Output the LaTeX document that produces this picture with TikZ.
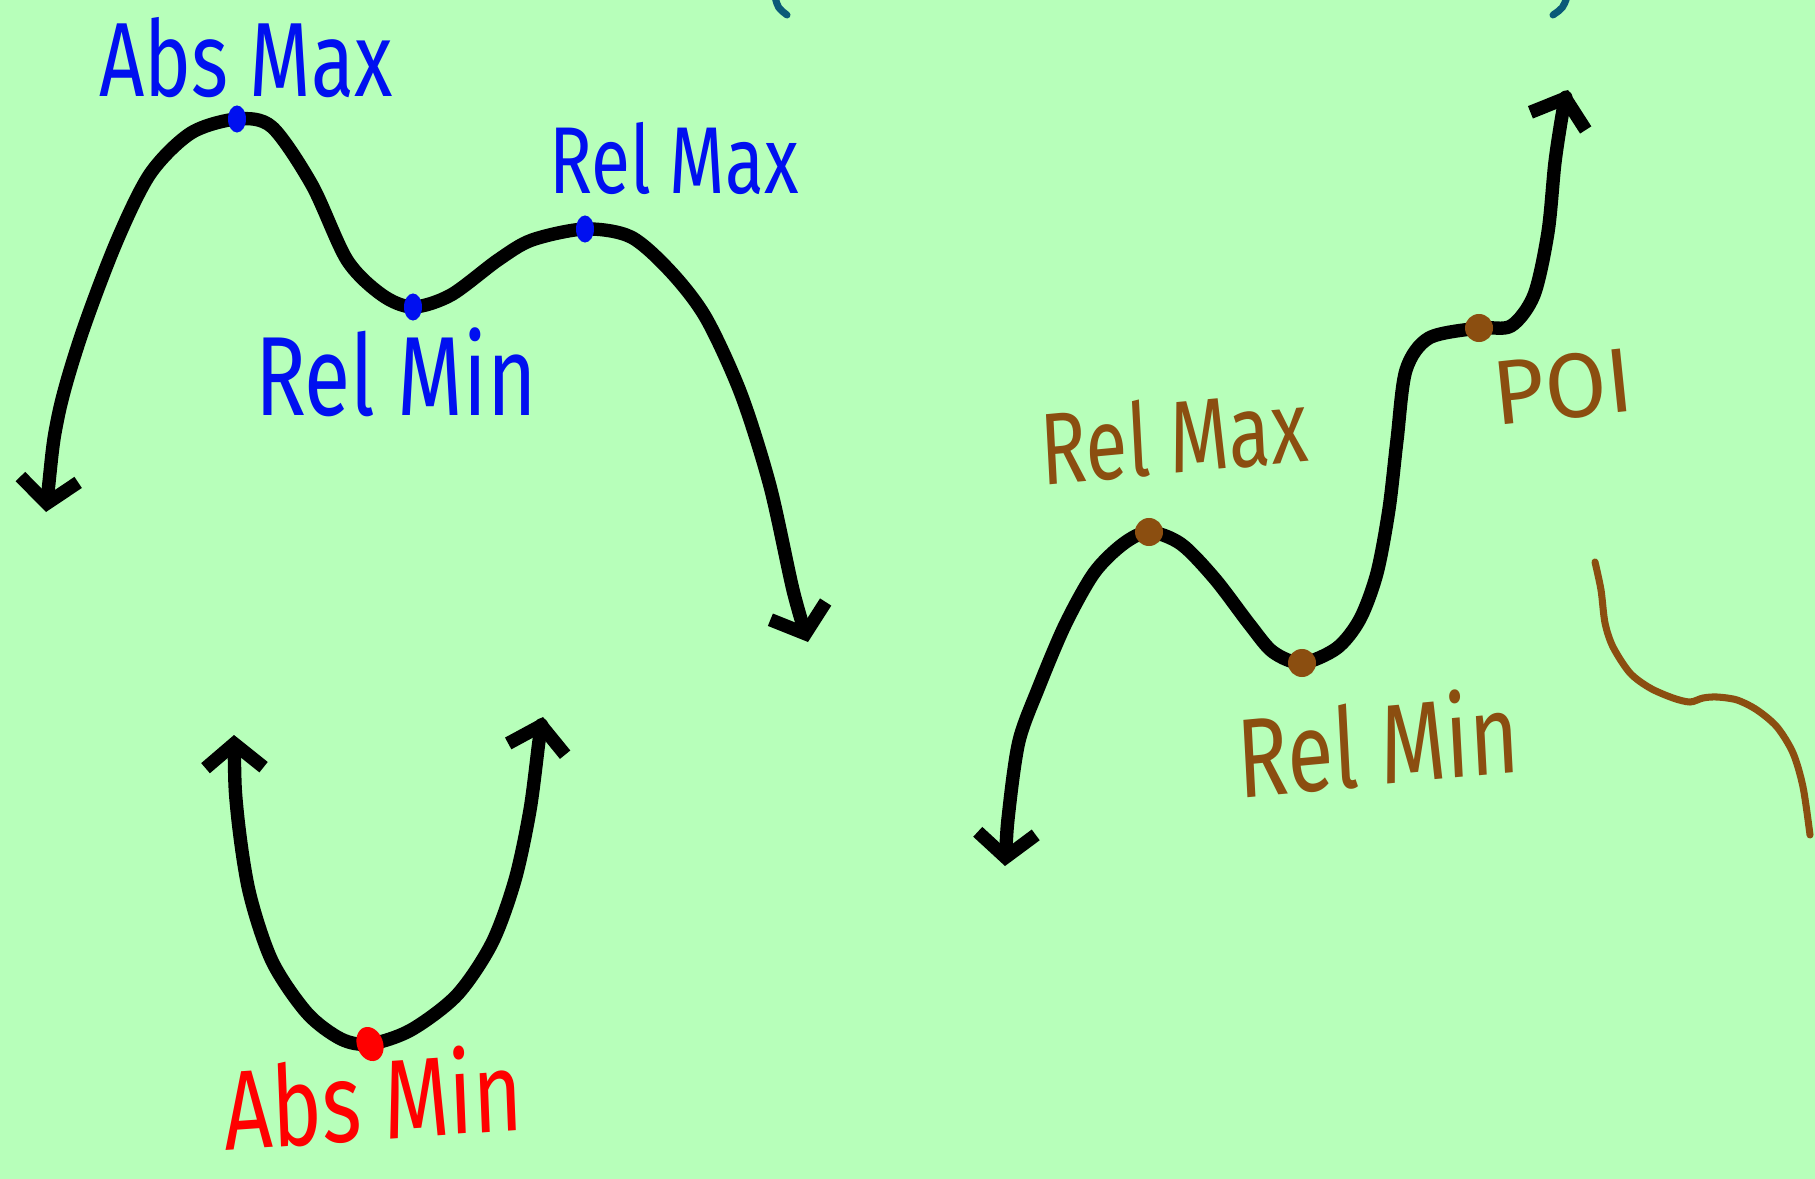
\documentclass[tikz,border=0pt]{standalone}
\usepackage{fontspec}
\setmainfont{Fira Sans}
\usetikzlibrary{arrows.meta,shapes.geometric}
\definecolor{paper}{RGB}{183,255,186}
\definecolor{ink}{RGB}{0,16,240}
\definecolor{rust}{RGB}{139,78,16}
\definecolor{parencol}{RGB}{10,90,120}

\begin{document}
\begin{tikzpicture}[x=0.01cm, y=-0.01cm,
  >={Straight Barb[length=2.4mm, width=5.8mm]},
  curve/.style={line width=3.8pt, line cap=round, line join=round},
  dot/.style={ellipse, fill, inner sep=0pt, minimum width=1.8mm, minimum height=2.7mm},
  lbl/.style={inner sep=0pt, xscale=0.75, transform shape}]
  \fill[paper] (0,0) rectangle (1815,1179);
  \useasboundingbox (0,0) rectangle (1815,1179);

  % bits of the brackets cut off at the top
  \draw[parencol, line width=2pt, line cap=round] (775,-3) .. controls (778,8) .. (787,15);
  \draw[parencol, line width=2pt, line cap=round] (1567,-3) .. controls (1563,8) .. (1553,15);

  % extreme points
  \coordinate (pA1) at (237,119);
  \coordinate (pA2) at (413,307);
  \coordinate (pA3) at (585,229);
  \coordinate (pB1) at (370,1044);
  \coordinate (pC1) at (1149,532);
  \coordinate (pC2) at (1302,663);
  \coordinate (pC3) at (1479,328);

  % curve with two peaks
  \draw[curve, <->] plot[smooth] coordinates {(46,512) (58,417) (81,336) (116,243)
    (150,174) (191,133) (pA1) (272,127) (312,185) (347,260) (382,295) (pA2) (451,295)
    (498,260) (532,240) (pA3) (631,237) (671,272) (706,318) (741,394) (770,486)
    (793,590) (808,642)};

  % cup
  \draw[curve, <->] plot[smooth] coordinates {(234,735) (237,810) (249,891) (272,961)
    (307,1013) (341,1039) (pB1) (411,1030) (457,995) (492,943) (515,880) (530,810)
    (539,741) (543,717)};

  % curve with a flat step
  \draw[curve, <->] plot[smooth] coordinates {(1005,866) (1009,810) (1019,741)
    (1038,689) (1065,625) (1094,573) (1123,544) (pC1) (1181,544) (1215,579) (1250,625)
    (1273,652) (pC2) (1337,648) (1360,619) (1377,573) (1389,509) (1397,440) (1406,370)
    (1429,338) (pC3) (1511,326) (1534,295) (1548,232) (1555,162) (1563,110) (1568,90)};

  % brown sketch
  \draw[rust, line width=2pt, line cap=round] plot[smooth] coordinates {(1595,562)
    (1601,590) (1605,623) (1613,647) (1630,673) (1650,688) (1673,698) (1690,702)
    (1703,698) (1717,697) (1737,700) (1757,710) (1777,727) (1793,753) (1803,787)
    (1810,835)};

  \node[dot, ink] (amax) at (pA1) {};
  \node[dot, ink] (rmin) at (pA2) {};
  \node[dot, ink] (rmax) at (pA3) {};
  \node[dot, red, minimum width=2.6mm, minimum height=3.5mm, rotate=20] (amin) at (pB1) {};
  \node[dot, rust, minimum width=2.8mm, minimum height=2.8mm] (rmaxb) at (pC1) {};
  \node[dot, rust, minimum width=2.8mm, minimum height=2.8mm] (rminb) at (pC2) {};
  \node[dot, rust, minimum width=2.8mm, minimum height=2.8mm] (poi) at (pC3) {};

  \node[lbl, ink, font=\fontsize{30}{30}\selectfont] (lamax) at (246,58) {Abs Max};
  \node[lbl, ink, font=\fontsize{27}{27}\selectfont] (lrmax) at (674,158) {Rel Max};
  \node[lbl, ink, font=\fontsize{32}{32}\selectfont] (lrmin) at (396,372) {Rel Min};
  \node[lbl, red, font=\fontsize{32}{32}\selectfont, rotate=3] (lamin) at (373,1097) {Abs Min};
  \node[lbl, rust, font=\fontsize{29}{29}\selectfont, rotate=4] (lrmaxb) at (1174,436) {Rel Max};
  \node[lbl, rust, font=\fontsize{32}{32}\selectfont, rotate=4] (lrminb) at (1378,742) {Rel Min};
  \node[lbl, rust, font=\fontsize{26}{26}\selectfont, xscale=1.3, rotate=6] (lpoi) at (1563,387) {POI};
\end{tikzpicture}
\end{document}
